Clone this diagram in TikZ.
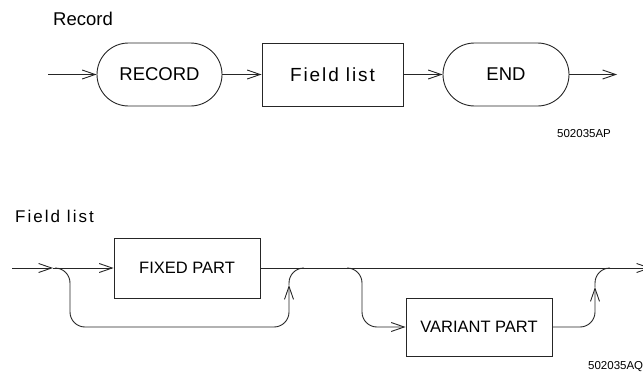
\documentclass[tikz,border=0pt]{standalone}
\usepackage{fontspec}
\setmainfont{Liberation Sans}
\usetikzlibrary{arrows.meta}

\tikzset{
  wire/.style={draw=black!85, line width=0.9pt},
  flow/.style={wire, -{Straight Barb[length=13pt, width=9pt, line width=0.9pt]}},
  loop/.style={wire, rounded corners=15pt},
  loopin/.style={loop, -{Straight Barb[length=13pt, width=9pt, line width=0.9pt]}},
  terminal/.style={wire, rounded corners=31.5pt, minimum height=63pt, inner sep=0pt,
                   font=\fontsize{18.5}{20}\selectfont},
  bigbox/.style={wire, rectangle, minimum height=63pt, inner sep=0pt,
                 font=\fontsize{19}{21}\selectfont\addfontfeature{LetterSpace=10}},
  partbox/.style={wire, rectangle, minimum width=146pt, inner sep=0pt,
                  font=\fontsize{16.5}{19}\selectfont},
  title/.style={anchor=base west, inner sep=0pt, font=\fontsize{18.5}{20}\selectfont},
  subtitle/.style={anchor=base west, inner sep=0pt,
                   font=\fontsize{17}{19}\selectfont\addfontfeature{LetterSpace=12}},
  figno/.style={anchor=base west, inner sep=0pt, font=\fontsize{11.5}{13}\selectfont},
}

\begin{document}
\begin{tikzpicture}[x=1pt, y=-1pt]
  \useasboundingbox (0,0) rectangle (643,372);

  % ---------- Record ----------
  \node[title] (rectitle) at (53,25) {Record};
  \coordinate (recin) at (48,74.5);
  \node[terminal, minimum width=125pt] (record) at (159.5,74.5) {RECORD};
  \node[bigbox, minimum width=141pt] (fields) at (332.5,74.5) {Field list};
  \node[terminal, minimum width=126pt] (endnode) at (506,74.5) {END};
  \coordinate (recout) at (617,74.5);

  \draw[flow] (recin) -- (record.west);
  \draw[flow] (record.east) -- (fields.west);
  \draw[flow] (fields.east) -- (endnode.west);
  \draw[flow] (endnode.east) -- (recout);

  \node[figno] (figa) at (557,137) {502035AP};

  % ---------- Field list ----------
  \node[subtitle] (fltitle) at (15,222) {Field list};
  \coordinate (flin) at (12,268);
  \coordinate (split1) at (53,268);
  \node[partbox, minimum height=60pt] (fixed) at (187,268) {FIXED PART};
  \node[partbox, minimum height=58pt] (variant) at (479,327) {VARIANT PART};
  \coordinate (flout) at (651,268);

  % main line
  \draw[flow] (flin) -- (split1);
  \draw[flow] (split1) -- (fixed.west);
  \draw[flow] (fixed.east) -- (flout);

  % bypass around the fixed part
  \coordinate (up1) at (289,285);
  \draw[loopin] (55,268) -- (70,268) -- (70,327) -- (289,327) -- (up1);
  \draw[loop] (up1) -- (289,268) -- (304,268);

  % optional variant part
  \coordinate (up2) at (595,287);
  \draw[loopin] (347,268) -- (362,268) -- (362,327) -- (variant.west);
  \draw[loopin] (variant.east) -- (595,327) -- (up2);
  \draw[loop] (up2) -- (595,268) -- (610,268);

  \node[figno] (figb) at (588,369) {502035AQ};
\end{tikzpicture}
\end{document}
